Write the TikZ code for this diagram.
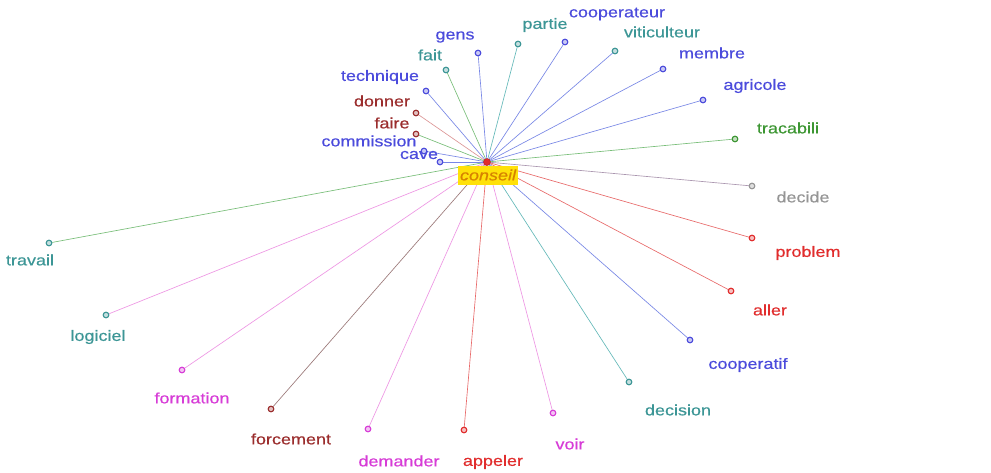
\documentclass[tikz,border=0pt]{standalone}
\usepackage{fontspec}
\setmainfont{Liberation Sans}[FakeStretch=1.2,FakeBold=0.4]
\definecolor{tblue}{RGB}{75,75,220}
\definecolor{tteal}{RGB}{60,150,150}
\definecolor{tgreen}{RGB}{60,150,50}
\definecolor{tgray}{RGB}{150,150,150}
\definecolor{tred}{RGB}{225,45,45}
\definecolor{tmag}{RGB}{215,60,215}
\definecolor{tbrown}{RGB}{155,45,45}
\definecolor{lblue}{RGB}{120,135,230}
\definecolor{lgreen}{RGB}{120,190,120}
\definecolor{lteal}{RGB}{100,185,185}
\definecolor{lpink}{RGB}{238,150,228}
\definecolor{lred}{RGB}{232,105,105}
\definecolor{lgray}{RGB}{170,150,175}
\definecolor{lbrown}{RGB}{155,120,120}
\definecolor{lrose}{RGB}{220,150,150}
\definecolor{cyellow}{RGB}{255,225,10}
\definecolor{corange}{RGB}{215,130,0}
\tikzset{
  wdot/.style={circle,draw=#1,fill=#1!30,line width=1pt,inner sep=0pt,minimum size=5.5pt},
  wlab/.style={text=#1,font=\fontsize{15}{15}\selectfont,inner sep=0pt},
  edge/.style={draw=#1,line width=0.65pt},
}
\begin{document}
\begin{tikzpicture}[x=1pt,y=-1pt]
\useasboundingbox (0,0) rectangle (991,472);
\fill[white] (0,0) rectangle (991,472);
\coordinate (cc) at (487,162);
\foreach \n/\x/\y/\lx/\ly/\tc/\lc in {
  gens/478/53/455/37/tblue/lblue,
  fait/446/70/430/55/tteal/lgreen,
  partie/518/44/545/25/tteal/lteal,
  cooperateur/565/42/617/14/tblue/lblue,
  viticulteur/615/51/662/32/tteal/lblue,
  membre/663/69/712/53/tblue/lblue,
  agricole/703/100/755/86/tblue/lblue,
  tracabili/735/139/788/128/tgreen/lgreen,
  decide/752/186/803/197/tgray/lgray,
  problem/752/238/808/253/tred/lred,
  aller/731/291/770/310/tred/lred,
  cooperatif/690/340/748/365/tblue/lblue,
  decision/629/382/678/410/tteal/lteal,
  voir/553/413/570/444/tmag/lpink,
  appeler/464/430/493/462/tred/lred,
  demander/368/429/399/461/tmag/lpink,
  forcement/271/409/291/439/tbrown/lbrown,
  formation/182/370/192/398/tmag/lpink,
  logiciel/106/315/98/337/tteal/lpink,
  travail/49/243/30/260/tteal/lgreen,
  technique/426/91/380/77/tblue/lblue,
  donner/416/113/382/101/tbrown/lrose,
  faire/416/134/392/123/tbrown/lgreen,
  commission/424/151/369/141/tblue/lblue,
  cave/440/162/419/155/tblue/lblue}
{
  \node[wdot=\tc] (d\n) at (\x,\y) {};
  \path[edge=\lc] (cc) -- (d\n);
  \node[wlab=\tc] (l\n) at (\lx,\ly) {\n};
}
\foreach \n/\x/\y/\tc in {
  gens/478/53/tblue, fait/446/70/tteal, partie/518/44/tteal,
  cooperateur/565/42/tblue, viticulteur/615/51/tteal, membre/663/69/tblue,
  agricole/703/100/tblue, tracabili/735/139/tgreen, decide/752/186/tgray,
  problem/752/238/tred, aller/731/291/tred, cooperatif/690/340/tblue,
  decision/629/382/tteal, voir/553/413/tmag, appeler/464/430/tred,
  demander/368/429/tmag, forcement/271/409/tbrown, formation/182/370/tmag,
  logiciel/106/315/tteal, travail/49/243/tteal, technique/426/91/tblue,
  donner/416/113/tbrown, faire/416/134/tbrown, commission/424/151/tblue,
  cave/440/162/tblue}
{
  \node[wdot=\tc] at (\x,\y) {};
}
\node[fill=cyellow,text=corange,inner sep=1.5pt,minimum width=60pt,minimum height=19pt,font=\fontsize{15}{15}\selectfont\itshape] (conseil) at (488,175) {conseil};
\node[circle,fill=tred,draw=tred!80!black,inner sep=0pt,minimum size=7pt] (c) at (cc) {};
\end{tikzpicture}
\end{document}
